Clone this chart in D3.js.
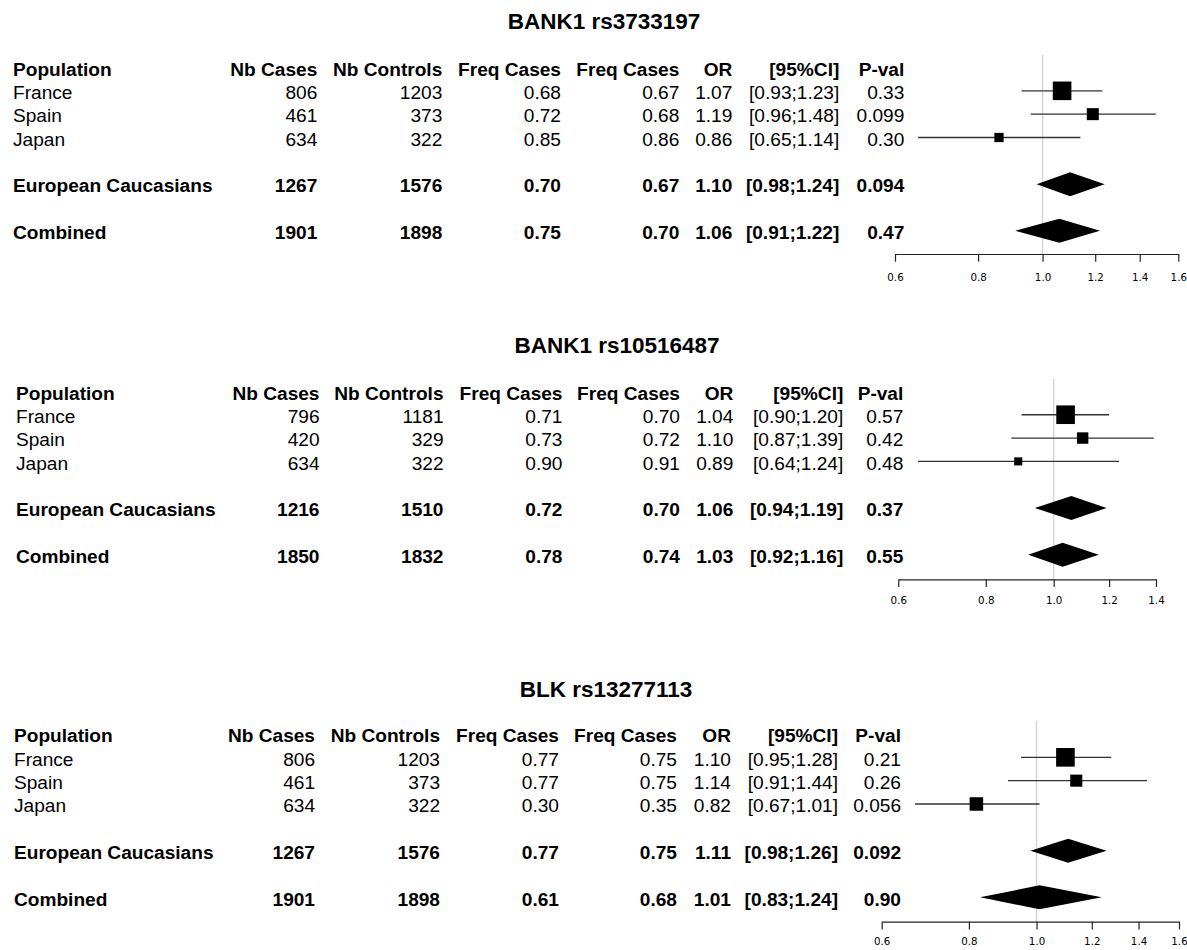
<!DOCTYPE html>
<html>
<head>
<meta charset="utf-8">
<script src="https://cdn.jsdelivr.net/npm/d3@7"></script>
<style>
  html, body { margin: 0; padding: 0; background: #fff; }
  svg { display: block; }
  text { font-family: "Liberation Sans", Arial, sans-serif; fill: #000; }
</style>
</head>
<body>
<svg id="chart" width="1187" height="950"></svg>
<script>
// ---------------- DATA ----------------
const titles = ["BANK1 rs3733197", "BANK1 rs10516487", "BLK rs13277113"];
const headers = ["Population", "Nb Cases", "Nb Controls", "Freq Cases", "Freq Cases", "OR", "[95%CI]", "P-val"];
const populations = ["France", "Spain", "Japan", "European Caucasians", "Combined"];
const isSummary = [false, false, false, true, true];

const nbCases = [
  [806, 461, 634, 1267, 1901],
  [796, 420, 634, 1216, 1850],
  [806, 461, 634, 1267, 1901]
];
const nbControls = [
  [1203, 373, 322, 1576, 1898],
  [1181, 329, 322, 1510, 1832],
  [1203, 373, 322, 1576, 1898]
];
const freqCases = [
  ["0.68", "0.72", "0.85", "0.70", "0.75"],
  ["0.71", "0.73", "0.90", "0.72", "0.78"],
  ["0.77", "0.77", "0.30", "0.77", "0.61"]
];
const freqControls = [
  ["0.67", "0.68", "0.86", "0.67", "0.70"],
  ["0.70", "0.72", "0.91", "0.70", "0.74"],
  ["0.75", "0.75", "0.35", "0.75", "0.68"]
];
const orValues = [
  [1.07, 1.19, 0.86, 1.10, 1.06],
  [1.04, 1.10, 0.89, 1.06, 1.03],
  [1.10, 1.14, 0.82, 1.11, 1.01]
];
const ciLower = [
  [0.93, 0.96, 0.65, 0.98, 0.91],
  [0.90, 0.87, 0.64, 0.94, 0.92],
  [0.95, 0.91, 0.67, 0.98, 0.83]
];
const ciUpper = [
  [1.23, 1.48, 1.14, 1.24, 1.22],
  [1.20, 1.39, 1.24, 1.19, 1.16],
  [1.28, 1.44, 1.01, 1.26, 1.24]
];
const pValues = [
  ["0.33", "0.099", "0.30", "0.094", "0.47"],
  ["0.57", "0.42", "0.48", "0.37", "0.55"],
  ["0.21", "0.26", "0.056", "0.092", "0.90"]
];
const tickValues = [
  [0.6, 0.8, 1.0, 1.2, 1.4, 1.6],
  [0.6, 0.8, 1.0, 1.2, 1.4],
  [0.6, 0.8, 1.0, 1.2, 1.4, 1.6]
];

// ---------------- LAYOUT ----------------
const layouts = [
  { titleX: 604, titleY: 29.3, headerY: 75.8, popX: 13,
    colRight: [317.3, 442.3, 561, 679.3, 732.3, 839.3, 904.3],
    axisX: [895, 1178.3], axisY: 254, refTop: 55, tickPad: 11.5 },
  { titleX: 617, titleY: 352.5, headerY: 399.7, popX: 16,
    colRight: [319.5, 443.5, 562.5, 680, 733.3, 843.3, 903.3],
    axisX: [898.3, 1156], axisY: 579.3, refTop: 379, tickPad: 10 },
  { titleX: 606, titleY: 696.7, headerY: 742.3, popX: 14,
    colRight: [315, 440, 559, 677, 731, 838, 901],
    axisX: [881.7, 1179], axisY: 921.7, refTop: 721, tickPad: 8.5 }
];
const rowIndex = [1, 2, 3, 5, 7];
const rowStep = 23.33;
const fontSize = 19.1;
const maxBox = 18.6;
const diamondH = 24;
const markOffset = 8.3;

const svg = d3.select("#chart");

layouts.forEach((L, p) => {
  const g = svg.append("g");
  const y = d3.scaleLinear().domain([0, 1]).range([L.headerY, L.headerY + rowStep]);
  const x = d3.scaleLog().domain([tickValues[p][0], tickValues[p][tickValues[p].length - 1]]).range(L.axisX);

  // title
  g.append("text")
    .attr("x", L.titleX).attr("y", L.titleY)
    .attr("text-anchor", "middle")
    .style("font-size", "22.5px").style("font-weight", "bold")
    .text(titles[p]);

  // headers
  headers.forEach((h, i) => {
    g.append("text")
      .attr("x", i === 0 ? L.popX : L.colRight[i - 1])
      .attr("y", L.headerY)
      .attr("text-anchor", i === 0 ? "start" : "end")
      .style("font-size", fontSize + "px").style("font-weight", "bold")
      .text(h);
  });

  // table rows
  populations.forEach((pop, r) => {
    const cells = [
      nbCases[p][r], nbControls[p][r], freqCases[p][r], freqControls[p][r],
      orValues[p][r].toFixed(2),
      "[" + ciLower[p][r].toFixed(2) + ";" + ciUpper[p][r].toFixed(2) + "]",
      pValues[p][r]
    ];
    const yy = y(rowIndex[r]);
    const fw = isSummary[r] ? "bold" : "normal";
    g.append("text").attr("x", L.popX).attr("y", yy)
      .style("font-size", fontSize + "px").style("font-weight", fw).text(pop);
    cells.forEach((c, i) => {
      g.append("text").attr("x", L.colRight[i]).attr("y", yy)
        .attr("text-anchor", "end")
        .style("font-size", fontSize + "px").style("font-weight", fw).text(c);
    });
  });

  // reference line at OR = 1
  g.append("line")
    .attr("x1", x(1)).attr("x2", x(1))
    .attr("y1", L.refTop).attr("y2", L.axisY)
    .attr("stroke", "#d4d4d4").attr("stroke-width", 1.4);

  // weights for box sizes (inverse variance from CI)
  const weights = populations.map((_, r) => {
    const se = (Math.log(ciUpper[p][r]) - Math.log(ciLower[p][r])) / (2 * 1.96);
    return 1 / (se * se);
  });
  const wMax = d3.max(weights.filter((_, r) => !isSummary[r]));

  populations.forEach((pop, r) => {
    const cy = y(rowIndex[r]) - markOffset;
    if (!isSummary[r]) {
      g.append("line")
        .attr("x1", x(ciLower[p][r])).attr("x2", x(ciUpper[p][r]))
        .attr("y1", cy).attr("y2", cy)
        .attr("stroke", "#333").attr("stroke-width", 1.3);
      const s = maxBox * Math.sqrt(weights[r] / wMax);
      g.append("rect")
        .attr("x", x(orValues[p][r]) - s / 2).attr("y", cy - s / 2)
        .attr("width", s).attr("height", s)
        .attr("fill", "#000");
    } else {
      const pts = [
        [x(ciLower[p][r]), cy],
        [x(orValues[p][r]), cy - diamondH / 2],
        [x(ciUpper[p][r]), cy],
        [x(orValues[p][r]), cy + diamondH / 2]
      ];
      g.append("path").attr("d", "M" + pts.map(q => q.join(",")).join("L") + "Z")
        .attr("fill", "#000");
    }
  });

  // axis
  const axis = d3.axisBottom(x)
    .tickValues(tickValues[p])
    .tickFormat(d3.format(".1f"))
    .tickSizeOuter(0)
    .tickSizeInner(7.7)
    .tickPadding(L.tickPad);
  const ag = g.append("g").attr("transform", `translate(0,${L.axisY})`).call(axis);
  ag.select(".domain").attr("stroke", "#222").attr("stroke-width", 1.2);
  ag.selectAll(".tick line").attr("stroke", "#222").attr("stroke-width", 1.2);
  ag.selectAll(".tick text")
    .style("font-family", "'DejaVu Sans', sans-serif")
    .style("font-size", "10.3px").attr("fill", "#1a1a2e");
});
</script>
</body>
</html>
